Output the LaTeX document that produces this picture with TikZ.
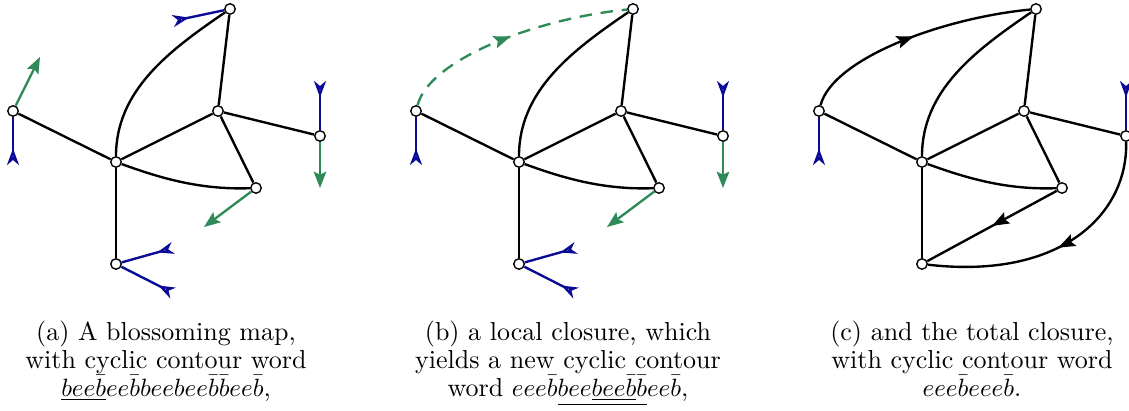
\documentclass[tikz,border=0pt]{standalone}
\usetikzlibrary{arrows.meta,decorations.markings}
\definecolor{budblue}{RGB}{10,10,150}
\definecolor{leafgreen}{RGB}{46,139,87}
\tikzset{
  vertex/.style={circle,draw,fill=white,inner sep=0pt,minimum size=4.2pt,line width=0.55pt},
  edge/.style={line width=0.95pt},
  bud/.style={line width=0.95pt,budblue,-{Stealth[open,reversed,length=6.6pt,width=4.8pt,inset=2pt]}},
  leaf/.style={line width=0.95pt,leafgreen,-{Stealth[length=6.5pt,width=5pt,inset=1.2pt]}},
  midarrow/.style={postaction={decorate},decoration={markings,
      mark=at position #1 with {\arrow{Stealth[length=6.8pt,width=5pt,inset=1.2pt]}}}},
  caption/.style={align=center,anchor=north,inner sep=0pt,font=\fontsize{10.4}{11.1}\selectfont}
}
% vertices and black edges shared by the three panels
\newcommand{\blossommap}[1]{%
  \node[vertex] (#1-P) at (13,111) {};
  \node[vertex] (#1-C) at (116,162) {};
  \node[vertex] (#1-T) at (230,9) {};
  \node[vertex] (#1-R) at (218,111) {};
  \node[vertex] (#1-Q) at (320,136) {};
  \node[vertex] (#1-L) at (256,188) {};
  \node[vertex] (#1-B) at (116,264) {};
  \draw[edge] (#1-P) -- (#1-C);
  \draw[edge] (#1-C) .. controls (116,90) and (170,50) .. (#1-T);
  \draw[edge] (#1-T) -- (#1-R);
  \draw[edge] (#1-C) -- (#1-R);
  \draw[edge] (#1-R) -- (#1-Q);
  \draw[edge] (#1-R) -- (#1-L);
  \draw[edge] (#1-C) .. controls (160,178) and (200,190) .. (#1-L);
  \draw[edge] (#1-C) -- (#1-B);
}
\begin{document}
\begin{tikzpicture}[x=0.4pt,y=-0.4pt]
  \useasboundingbox (0,0) rectangle (1129,411);

  % (a) blossoming map
  \begin{scope}
    \blossommap{a}
    \coordinate (a-tb) at (173,21);
    \coordinate (a-pb) at (13,165);
    \coordinate (a-qb) at (320,81);
    \coordinate (a-b1) at (173,248);
    \coordinate (a-b2) at (173,293);
    \coordinate (a-pl) at (40,57);
    \coordinate (a-ll) at (204,227);
    \coordinate (a-ql) at (320,188);
    \draw[bud] (a-T) -- (a-tb);
    \draw[bud] (a-P) -- (a-pb);
    \draw[bud] (a-Q) -- (a-qb);
    \draw[bud] (a-B) -- (a-b1);
    \draw[bud] (a-B) -- (a-b2);
    \draw[leaf] (a-P) -- (a-pl);
    \draw[leaf] (a-L) -- (a-ll);
    \draw[leaf] (a-Q) -- (a-ql);
  \end{scope}

  % (b) local closure
  \begin{scope}[shift={(403,0)}]
    \blossommap{b}
    \coordinate (b-pb) at (13,165);
    \coordinate (b-qb) at (320,81);
    \coordinate (b-b1) at (173,248);
    \coordinate (b-b2) at (173,293);
    \coordinate (b-ll) at (204,227);
    \coordinate (b-ql) at (320,188);
    \draw[bud] (b-P) -- (b-pb);
    \draw[bud] (b-Q) -- (b-qb);
    \draw[bud] (b-B) -- (b-b1);
    \draw[bud] (b-B) -- (b-b2);
    \draw[leaf] (b-L) -- (b-ll);
    \draw[leaf] (b-Q) -- (b-ql);
    \draw[line width=0.95pt,leafgreen,dash pattern=on 5pt off 3.5pt,midarrow=0.5]
      (b-P) .. controls (27,58) and (137,18) .. (b-T);
  \end{scope}

  % (c) total closure
  \begin{scope}[shift={(806,0)}]
    \blossommap{c}
    \coordinate (c-pb) at (13,165);
    \coordinate (c-qb) at (320,81);
    \draw[bud] (c-P) -- (c-pb);
    \draw[bud] (c-Q) -- (c-qb);
    \draw[edge,midarrow=0.5] (c-P) .. controls (27,58) and (137,18) .. (c-T);
    \draw[edge,midarrow=0.5] (c-L) -- (c-B);
    \draw[edge,midarrow=0.5] (c-Q) .. controls (322,215) and (254,280) .. (c-B);
  \end{scope}

  \node[caption] (capa) at (166,321) {(a) A blossoming map,\\
    with cyclic contour word\\
    $\underline{bee\bar b}ee\bar bbeebee\bar b\bar bee\bar b$,};
  \node[caption] (capb) at (568,321) {(b) a local closure, which\\
    yields a new cyclic contour\\
    word $eee\bar b\underline{bee\underline{bee\bar b}\bar b}ee\bar b$,};
  \node[caption] (capc) at (972,321) {(c) and the total closure,\\
    with cyclic contour word\\
    $eee\bar beee\bar b$.};
\end{tikzpicture}
\end{document}
